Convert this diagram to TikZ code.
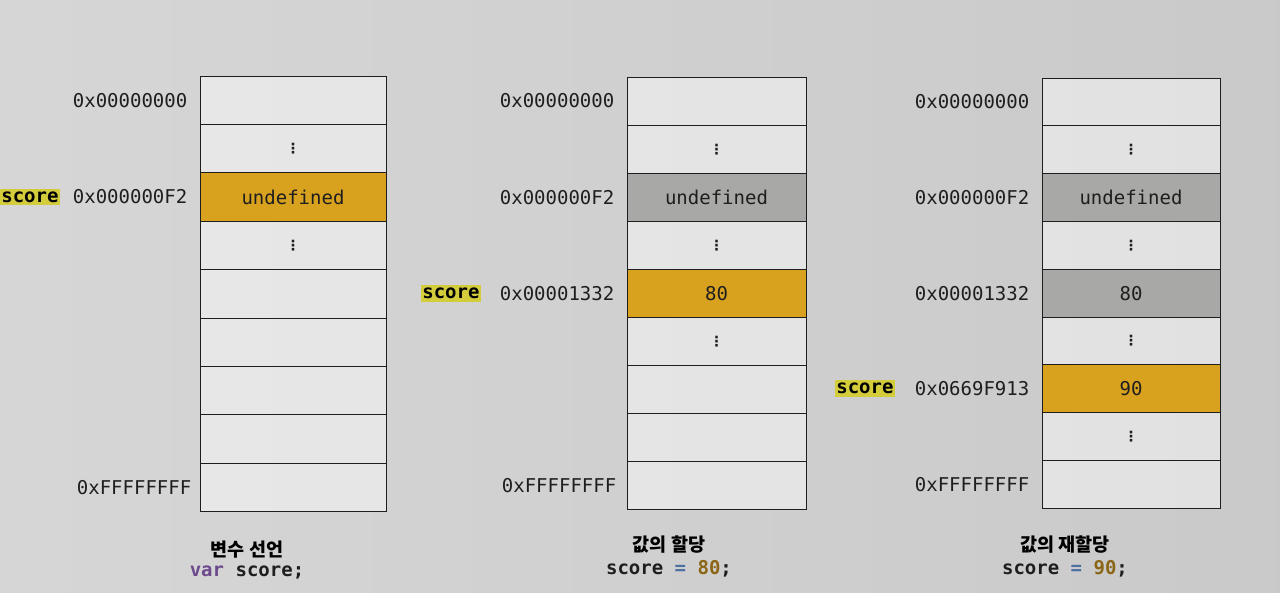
\documentclass[tikz,border=0pt]{standalone}
\usepackage{fontspec}
\setmonofont{DejaVu Sans Mono}
\newfontfamily\krfont{Noto Sans CJK KR}
\newfontfamily\dotfont{DejaVu Sans}
\usetikzlibrary{positioning}

\definecolor{cellgold}{HTML}{D9A21E}
\definecolor{cellgray}{HTML}{A8A8A6}
\definecolor{tagyellow}{HTML}{D3CD3C}
\definecolor{inkdark}{HTML}{1E1E1E}
\definecolor{kwpurple}{HTML}{6C4A8C}
\definecolor{opblue}{HTML}{4C70A2}
\definecolor{numbrown}{HTML}{8C6616}

\newcommand\memfont{\ttfamily\fontsize{19}{22}\selectfont}
\newcommand\celldots{{\dotfont\bfseries\fontsize{14}{14}\selectfont ⋮}}

\begin{document}
\begin{tikzpicture}[x=1pt,y=-1pt,
    cell/.style={draw=inkdark, line width=1pt, fill=white, fill opacity=0.45, text opacity=1, text=inkdark, inner sep=0pt, font=\memfont},
    hot/.style={cell, fill=cellgold, fill opacity=1},
    old/.style={cell, fill=cellgray, fill opacity=1},
    addr/.style={text=inkdark, font=\memfont, inner sep=0pt},
    tag/.style={fill=tagyellow, text=black, font=\memfont\bfseries, inner xsep=1pt, inner ysep=3pt},
    title/.style={text=black, font=\krfont\bfseries\fontsize{18.5}{21}\selectfont},
    code/.style={text=inkdark, font=\memfont\bfseries}]
    % paper
    \shade[left color=black!16, middle color=black!7, right color=black!21] (0,0) rectangle (1280,592);
    \useasboundingbox (0,0) rectangle (1280,592);

    % declaration
    \foreach \txt/\sty [count=\i from 0] in {{}/cell, \celldots/cell, undefined/hot, \celldots/cell, {}/cell, {}/cell, {}/cell, {}/cell, {}/cell}
        \node[\sty, minimum width=186pt, minimum height=48.4pt] (m1r\i) at (293, {100.2+48.4*\i}) {\txt};
    \node[addr, left=12pt of m1r0] (m1a0) {0x00000000};
    \node[addr, left=12pt of m1r2] (m1a2) {0x000000F2};
    \node[addr, left=8pt of m1r8] (m1a8) {0xFFFFFFFF};
    \node[tag, left=13pt of m1a2] (m1s) {score};
    \node[title] (m1t) at (247,550) {변수 선언};
    \node[code, below=0pt of m1t] (m1c) {\textcolor{kwpurple}{var} score;};

    % assignment
    \foreach \txt/\sty [count=\i from 0] in {{}/cell, \celldots/cell, undefined/old, \celldots/cell, 80/hot, \celldots/cell, {}/cell, {}/cell, {}/cell}
        \node[\sty, minimum width=179pt, minimum height=48.1pt] (m2r\i) at (716.5, {101.05+48.1*\i}) {\txt};
    \node[addr, left=12pt of m2r0] (m2a0) {0x00000000};
    \node[addr, left=12pt of m2r2] (m2a2) {0x000000F2};
    \node[addr, left=12pt of m2r4] (m2a4) {0x00001332};
    \node[addr, left=10pt of m2r8] (m2a8) {0xFFFFFFFF};
    \node[tag, left=19pt of m2a4] (m2s) {score};
    \node[title] (m2t) at (669,545) {값의 할당};
    \node[code, below=0pt of m2t] (m2c) {score \textcolor{opblue}{=} \textcolor{numbrown}{80};};

    % reassignment
    \foreach \txt/\sty [count=\i from 0] in {{}/cell, \celldots/cell, undefined/old, \celldots/cell, 80/old, \celldots/cell, 90/hot, \celldots/cell, {}/cell}
        \node[\sty, minimum width=178pt, minimum height=47.8pt] (m3r\i) at (1131, {101.9+47.8*\i}) {\txt};
    \node[addr, left=12pt of m3r0] (m3a0) {0x00000000};
    \node[addr, left=12pt of m3r2] (m3a2) {0x000000F2};
    \node[addr, left=12pt of m3r4] (m3a4) {0x00001332};
    \node[addr, left=12pt of m3r6] (m3a6) {0x0669F913};
    \node[addr, left=12pt of m3r8] (m3a8) {0xFFFFFFFF};
    \node[tag, left=20pt of m3a6] (m3s) {score};
    \node[title] (m3t) at (1065,545) {값의 재할당};
    \node[code, below=0pt of m3t] (m3c) {score \textcolor{opblue}{=} \textcolor{numbrown}{90};};
\end{tikzpicture}
\end{document}
